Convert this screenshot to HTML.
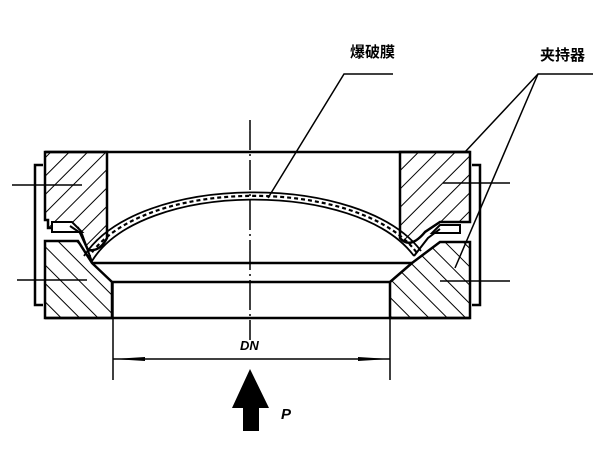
<!DOCTYPE html>
<html><head><meta charset="utf-8"><style>
html,body{margin:0;padding:0;background:#fff;}
svg{display:block}
</style></head><body>
<svg width="600" height="465" viewBox="0 0 600 465" xmlns="http://www.w3.org/2000/svg">
<defs>
<pattern id="h1" patternUnits="userSpaceOnUse" width="13" height="13" patternTransform="rotate(45)">
<line x1="0" y1="0" x2="0" y2="13" stroke="#000" stroke-width="2"/></pattern>
<pattern id="h2" patternUnits="userSpaceOnUse" width="13" height="13" patternTransform="rotate(-45)">
<line x1="0" y1="0" x2="0" y2="13" stroke="#000" stroke-width="2"/></pattern>
</defs>
<g stroke="#000" stroke-width="2.5" fill="none">
<line x1="45" y1="152" x2="470" y2="152"/>
<path d="M45,152 H107 V238 Q100,252 88,250 L78,228 H48 V220 H45 Z" fill="url(#h1)"/>
<path d="M45,241 H78 L92,263 L112,282 V318 H45 Z" fill="url(#h2)"/>
<path d="M400,152 H470 V222 H440 L425,232 Q410,250 400,238 Z" fill="url(#h1)"/>
<path d="M470,242 H440 L412,263 L390,282 V318 H470 Z" fill="url(#h2)"/>
<path d="M52,222 H72 L82,232 H52 Z" fill="#fff" stroke-width="2"/>
<path d="M460,225 H440 L432,233 H460 Z" fill="#fff" stroke-width="2"/>
<line x1="92" y1="263" x2="412" y2="263"/>
<line x1="112" y1="282" x2="390" y2="282"/>
<line x1="45" y1="318" x2="470" y2="318"/>
<path d="M43,165 H35 V305 H43"/>
<path d="M472,165 H480 V305 H472"/>
<!-- dome -->
<path d="M84,256 C138,172 362,172 421,251" stroke-width="1.8"/>
<path d="M92,261 C142,180 358,180 414,256" stroke-width="1.8"/>
<path d="M88,258 C140,176 360,176 417,253" stroke-width="2.2" stroke-dasharray="4 3"/>
<path d="M70,226 L82,234 L92,262" stroke-width="2"/>
<path d="M440,229 L428,238 L414,256" stroke-width="2"/>
</g>
<g stroke="#000" stroke-width="1.5" fill="none">
<line x1="12" y1="185" x2="82" y2="185"/>
<line x1="17" y1="280" x2="87" y2="280"/>
<line x1="443" y1="183" x2="510" y2="183"/>
<line x1="440" y1="281" x2="510" y2="281"/>
<line x1="250" y1="120" x2="250" y2="330" stroke-dasharray="30 4 2 4"/>
<line x1="250" y1="330" x2="250" y2="340"/>
<path d="M393,74 H344 L268,198"/>
<path d="M593,74 H538 L465,152"/>
<path d="M538,74 L455,268"/>
<line x1="113" y1="282" x2="113" y2="380"/>
<line x1="390" y1="282" x2="390" y2="380"/>
<line x1="113" y1="359" x2="390" y2="359"/>
</g>
<path d="M113,359 L145,357 L145,361 Z M390,359 L358,357 L358,361 Z" fill="#000"/>
<path d="M250,369 L269,408 L259,408 L259,431 L243,431 L243,408 L232,408 Z" fill="#000"/>
<g font-family="'Liberation Sans','Noto Sans CJK SC',sans-serif" font-weight="bold" fill="#000">
<text x="350" y="57" font-size="15">爆破膜</text>
<text x="540" y="60" font-size="15">夹持器</text>
<text x="240" y="350" font-size="13" font-style="italic">DN</text>
<text x="281" y="419" font-size="15" font-style="italic">P</text>
</g>
</svg>
</body></html>
